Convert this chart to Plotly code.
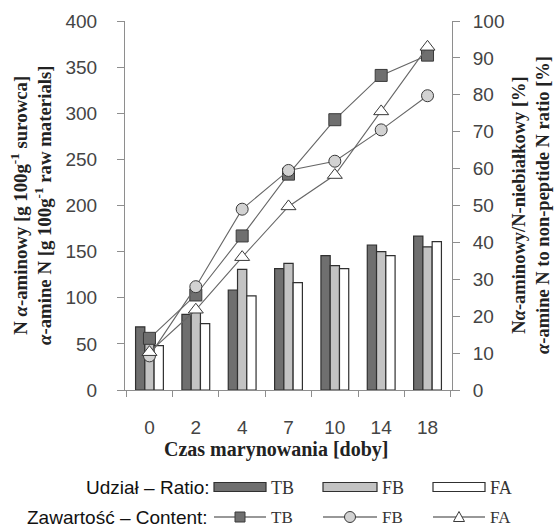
import plotly.graph_objects as go

# ---- data ----
days = ["0", "2", "4", "7", "10", "14", "18"]
# Udział - Ratio [%] (right axis, bars)
ratio_TB = [17.1, 20.5, 27.1, 32.9, 36.4, 39.3, 41.7]
ratio_FB = [13.8, 21.0, 32.7, 34.3, 33.7, 37.5, 38.8]
ratio_FA = [12.0, 18.0, 25.5, 29.1, 32.9, 36.4, 40.2]
# Zawartość - Content [g 100g-1] (left axis, lines)
cont_TB = [56, 103, 167, 234, 293, 341, 363]
cont_FB = [37, 112, 196, 238, 248, 282, 319]
cont_FA = [41, 87, 144, 199, 233, 302, 372]

left_ticks = list(range(0, 401, 50))
right_ticks = list(range(0, 101, 10))

# ---- styling ----
C_TB = "#6f6f6f"
C_FB = "#c3c3c3"
C_FA = "#ffffff"
EDGE = "#303030"
LINE = "#666666"
AX = "#8e8e8e"
TXT = "#444444"
SANS = "Liberation Sans, Arial, sans-serif"
SERIF = "Liberation Serif, Times New Roman, serif"

L, R, T, B = 125, 103, 21, 138
W, H = 555, 528
PW, PH = W - L - R, H - T - B


def pxx(x):
    return (x - L) / PW


def pxy(y):
    return (H - B - y) / PH


fig = go.Figure()

for name, vals, col in [("TB", ratio_TB, C_TB), ("FB", ratio_FB, C_FB), ("FA", ratio_FA, C_FA)]:
    fig.add_trace(go.Bar(x=days, y=vals, name=name, yaxis="y",
                         marker=dict(color=col, line=dict(color=EDGE, width=1.2)),
                         showlegend=False))

for name, vals, sym, col in [("TB", cont_TB, "square", C_TB), ("FB", cont_FB, "circle", "#d2d2d2"),
                             ("FA", cont_FA, "triangle-up", "#ffffff")]:
    fig.add_trace(go.Scatter(x=days, y=vals, name=name, yaxis="y2", mode="lines+markers",
                             line=dict(color=LINE, width=1.1),
                             marker=dict(symbol=sym, size=12 if sym != "triangle-up" else 13,
                                         color=col, line=dict(color="#3a3a3a", width=1)),
                             showlegend=False))

fig.update_layout(
    width=W, height=H,
    margin=dict(l=L, r=R, t=T, b=B, autoexpand=False),
    paper_bgcolor="white", plot_bgcolor="white",
    barmode="group", bargap=0.4, bargroupgap=0,
    showlegend=False,
    font=dict(family=SANS, size=19, color=TXT),
    xaxis=dict(type="category", showline=True, linecolor=AX, linewidth=1,
               ticks="outside", tickson="boundaries", ticklen=6, tickcolor=AX,
               tickfont=dict(family=SANS, size=19, color=TXT), ticklabelstandoff=20,
               showgrid=False, zeroline=False),
    yaxis=dict(side="right", range=[0, 100], tickvals=right_ticks, showline=True, linecolor=AX,
               ticks="outside", ticklen=7, tickcolor=AX, showgrid=False, zeroline=False,
               tickfont=dict(family=SANS, size=19, color=TXT), ticklabelstandoff=9),
    yaxis2=dict(side="left", overlaying="y", range=[0, 400], tickvals=left_ticks, showline=True,
                linecolor=AX, ticks="outside", ticklen=7, tickcolor=AX, showgrid=False,
                zeroline=False, tickfont=dict(family=SANS, size=19, color=TXT),
                ticklabelstandoff=16),
)

ann = []
ann.append(dict(xref="paper", yref="paper", x=pxx(31), y=pxy(205), textangle=-90,
                text="<b>N <i>α</i>-aminowy [g 100g<sup>-1</sup> surowca]</b><br><b><i>α</i>-amine N [g 100g<sup>-1</sup> raw materials]</b>",
                showarrow=False, xanchor="center", yanchor="middle",
                font=dict(family=SERIF, size=18.8, color="#222222")))
ann.append(dict(xref="paper", yref="paper", x=pxx(531), y=pxy(205), textangle=-90,
                text="<b>N<i>α</i>-aminowy/N-niebiałkowy [%]</b><br><b><i>α</i>-amine N to non-peptide N ratio [%]</b>",
                showarrow=False, xanchor="center", yanchor="middle",
                font=dict(family=SERIF, size=18.5, color="#222222")))
ann.append(dict(xref="paper", yref="paper", x=pxx(276), y=pxy(449),
                text="<b>Czas marynowania [doby]</b>", showarrow=False,
                xanchor="center", yanchor="middle",
                font=dict(family=SERIF, size=20, color="#222222")))

# legend row 1 (bars)
r1 = 487
ann.append(dict(xref="paper", yref="paper", x=pxx(212), y=pxy(r1), text="Udział – Ratio:",
                showarrow=False, xanchor="right", yanchor="middle",
                font=dict(family=SANS, size=19, color="#111111")))
# legend row 2 (lines)
r2 = 517
ann.append(dict(xref="paper", yref="paper", x=pxx(210), y=pxy(r2), text="Zawartość – Content:",
                showarrow=False, xanchor="right", yanchor="middle",
                font=dict(family=SANS, size=19, color="#111111")))

shapes = []
leg = [("TB", 214, 266, C_TB, "square", C_TB),
       ("FB", 323, 377, C_FB, "circle", "#d2d2d2"),
       ("FA", 433, 485, C_FA, "triangle", "#ffffff")]
for name, x0, x1, col, sym, mcol in leg:
    shapes.append(dict(type="rect", xref="paper", yref="paper", x0=pxx(x0), x1=pxx(x1),
                       y0=pxy(r1 + 4.5), y1=pxy(r1 - 4.5), fillcolor=col,
                       line=dict(color=EDGE, width=1.2)))
    ann.append(dict(xref="paper", yref="paper", x=pxx(x1 + 3), y=pxy(r1 + 1), text=name,
                    showarrow=False, xanchor="left", yanchor="middle",
                    font=dict(family=SERIF, size=18, color="#333333")))
    shapes.append(dict(type="line", xref="paper", yref="paper", x0=pxx(x0), x1=pxx(x1),
                       y0=pxy(r2), y1=pxy(r2), line=dict(color="#333333", width=1.2)))
    cx = (x0 + x1) / 2
    if sym == "square":
        shapes.append(dict(type="rect", xref="paper", yref="paper", x0=pxx(cx - 5), x1=pxx(cx + 5),
                           y0=pxy(r2 + 5), y1=pxy(r2 - 5), fillcolor=mcol,
                           line=dict(color="#3a3a3a", width=1)))
    elif sym == "circle":
        shapes.append(dict(type="circle", xref="paper", yref="paper", x0=pxx(cx - 5.5), x1=pxx(cx + 5.5),
                           y0=pxy(r2 + 5.5), y1=pxy(r2 - 5.5), fillcolor=mcol,
                           line=dict(color="#3a3a3a", width=1)))
    else:
        path = "M {} {} L {} {} L {} {} Z".format(pxx(cx - 5.5), pxy(r2 + 4.5), pxx(cx + 5.5),
                                                 pxy(r2 + 4.5), pxx(cx), pxy(r2 - 5.5))
        shapes.append(dict(type="path", xref="paper", yref="paper", path=path, fillcolor=mcol,
                           line=dict(color="#3a3a3a", width=1)))
    ann.append(dict(xref="paper", yref="paper", x=pxx(x1 + 3), y=pxy(r2), text=name,
                    showarrow=False, xanchor="left", yanchor="middle",
                    font=dict(family=SERIF, size=17, color="#333333")))

fig.update_layout(annotations=ann, shapes=shapes)
fig.write_html("out.html")
